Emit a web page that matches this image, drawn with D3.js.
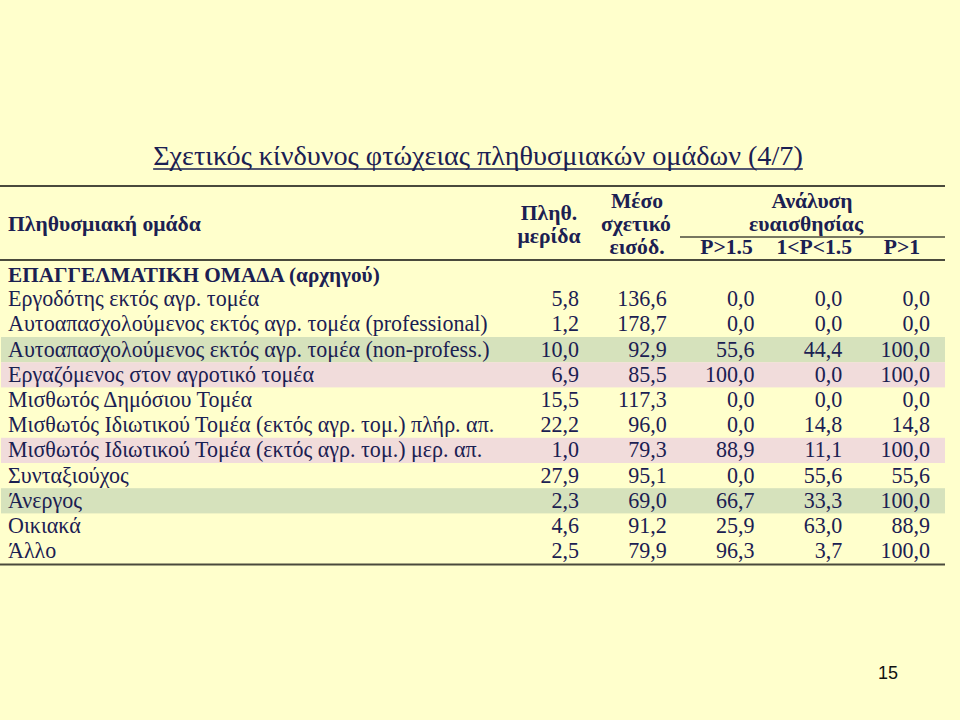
<!DOCTYPE html>
<html>
<head>
<meta charset="utf-8">
<script src="https://cdn.jsdelivr.net/npm/d3@7"></script>
<style>
  body { margin: 0; background: #ffffcc; }
  svg { display: block; }
</style>
</head>
<body>
<svg width="960" height="720"></svg>
<script>

var title = "Σχετικός κίνδυνος φτώχειας πληθυσμιακών ομάδων (4/7)";
var sectionLabel = "ΕΠΑΓΓΕΛΜΑΤΙΚΗ ΟΜΑΔΑ (αρχηγού)";
var pageNumber = "15";

var groups = [
  "Εργοδότης εκτός αγρ. τομέα",
  "Αυτοαπασχολούμενος εκτός αγρ. τομέα (professional)",
  "Αυτοαπασχολούμενος εκτός αγρ. τομέα (non-profess.)",
  "Εργαζόμενος στον αγροτικό τομέα",
  "Μισθωτός Δημόσιου Τομέα",
  "Μισθωτός Ιδιωτικού Τομέα (εκτός αγρ. τομ.) πλήρ. απ.",
  "Μισθωτός Ιδιωτικού Τομέα (εκτός αγρ. τομ.) μερ. απ.",
  "Συνταξιούχος",
  "Άνεργος",
  "Οικιακά",
  "Άλλο"
]

var share     = [5.8, 1.2, 10.0, 6.9, 15.5, 22.2, 1.0, 27.9, 2.3, 4.6, 2.5]
var relIncome = [136.6, 178.7, 92.9, 85.5, 117.3, 96.0, 79.3, 95.1, 69.0, 91.2, 79.9]
var pOver15   = [0.0, 0.0, 55.6, 100.0, 0.0, 0.0, 88.9, 0.0, 66.7, 25.9, 96.3]
var pBetween  = [0.0, 0.0, 44.4, 0.0, 0.0, 14.8, 11.1, 55.6, 33.3, 63.0, 3.7]
var pOver1    = [0.0, 0.0, 100.0, 100.0, 0.0, 14.8, 100.0, 55.6, 100.0, 88.9, 100.0]

var columns = [share, relIncome, pOver15, pBetween, pOver1]
var sensLabels = ["P>1.5", "1<P<1.5", "P>1"]

// shaded rows
var greenRows = ["Αυτοαπασχολούμενος εκτός αγρ. τομέα (non-profess.)", "Άνεργος"]
var pinkRows = ["Εργαζόμενος στον αγροτικό τομέα", "Μισθωτός Ιδιωτικού Τομέα (εκτός αγρ. τομ.) μερ. απ."]

var ink = "#1b2052";
var ruleColor = "#4a4a3c";
var serif = "'Liberation Serif', 'Times New Roman', serif";

var svg = d3.select("svg");
var locale = d3.formatLocale({decimal: ",", thousands: ".", grouping: [3]});
var fmt = locale.format(".1f");

// font size that makes a string span a target width
function fitSize(parent, str, weight, target) {
  var probe = parent.append("text")
    .attr("font-family", serif)
    .attr("font-weight", weight)
    .attr("font-size", 20)
    .text(str);
  var w = probe.node().getComputedTextLength();
  probe.remove();
  return 20 * target / w;
}

var tableLeft = 0, tableRight = 945;

var y = d3.scaleBand()
  .domain(groups)
  .range([286.6, 563.8]);

var x = d3.scaleLinear()
  .domain([0, columns.length - 1])
  .range([579, 930]);

// title
var t = svg.append("text")
  .attr("x", 478)
  .attr("y", 165)
  .attr("text-anchor", "middle")
  .attr("font-family", serif)
  .attr("font-size", fitSize(svg, title, "normal", 650))
  .attr("fill", ink)
  .text(title);
var tb = t.node().getBBox();
svg.append("line")
  .attr("x1", tb.x).attr("x2", tb.x + tb.width)
  .attr("y1", 169).attr("y2", 169)
  .attr("stroke", ink).attr("stroke-width", 1.3);

// row shading
svg.selectAll(".shade")
  .data(groups.filter(function(d) { return greenRows.indexOf(d) >= 0 || pinkRows.indexOf(d) >= 0; }))
  .enter().append("rect")
  .attr("class", "shade")
  .attr("x", tableLeft + 1)
  .attr("width", tableRight - tableLeft - 1)
  .attr("y", function(d) { return y(d); })
  .attr("height", y.bandwidth())
  .attr("fill", function(d) { return greenRows.indexOf(d) >= 0 ? "#d6e2bc" : "#f1dcdb"; });

// rules
function rule(x1, x2, yy, w) {
  svg.append("line")
    .attr("x1", x1).attr("x2", x2)
    .attr("y1", yy).attr("y2", yy)
    .attr("stroke", ruleColor)
    .attr("stroke-width", w);
}
rule(tableLeft, tableRight, 186, 2);
rule(680, tableRight, 237, 1.5);
rule(tableLeft, tableRight, 260, 2);
rule(tableLeft, tableRight, 564.5, 2);

// header
var hs = fitSize(svg, "Πληθυσμιακή ομάδα", "bold", 193);
var head = svg.append("g")
  .attr("font-family", serif)
  .attr("font-weight", "bold")
  .attr("font-size", hs)
  .attr("fill", ink);

head.append("text").attr("x", 8).attr("y", 231).text("Πληθυσμιακή ομάδα");
head.append("text").attr("x", 549).attr("y", 220).attr("text-anchor", "middle").text("Πληθ.");
head.append("text").attr("x", 549).attr("y", 243).attr("text-anchor", "middle").text("μερίδα");
head.append("text").attr("x", 637).attr("y", 208).attr("text-anchor", "middle").text("Μέσο");
head.append("text").attr("x", 636).attr("y", 231).attr("text-anchor", "middle").text("σχετικό");
head.append("text").attr("x", 637).attr("y", 254).attr("text-anchor", "middle").text("εισόδ.");
head.append("text").attr("x", 812).attr("y", 208).attr("text-anchor", "middle").text("Ανάλυση");
head.append("text").attr("x", 806).attr("y", 231).attr("text-anchor", "middle").text("ευαισθησίας");

head.selectAll(".sens")
  .data(sensLabels)
  .enter().append("text")
  .attr("class", "sens")
  .attr("x", function(d, i) { return x(i + 2) - 28; })
  .attr("y", 254)
  .attr("text-anchor", "middle")
  .text(function(d) { return d; });

head.append("text")
  .attr("x", 8)
  .attr("y", 282)
  .attr("font-size", fitSize(svg, sectionLabel, "bold", 372))
  .text(sectionLabel);

// body
var bs = fitSize(svg, groups[2], "normal", 482);
var body = svg.append("g")
  .attr("font-family", serif)
  .attr("font-size", bs)
  .attr("fill", ink);

var rows = body.selectAll(".row")
  .data(groups)
  .enter().append("g")
  .attr("class", "row")
  .attr("transform", function(d) { return "translate(0," + (y(d) + y.bandwidth() / 2 + 7) + ")"; });

rows.append("text")
  .attr("x", 8)
  .text(function(d) { return d; });

rows.selectAll(".val")
  .data(function(d, i) { return columns.map(function(c) { return c[i]; }); })
  .enter().append("text")
  .attr("class", "val")
  .attr("x", function(d, j) { return x(j); })
  .attr("text-anchor", "end")
  .text(function(d) { return fmt(d); });

// page number
svg.append("text")
  .attr("x", 888)
  .attr("y", 679)
  .attr("text-anchor", "middle")
  .attr("font-family", "'Liberation Sans', Arial, sans-serif")
  .attr("font-size", 18)
  .attr("fill", "#111")
  .text(pageNumber);

</script>
</body>
</html>
